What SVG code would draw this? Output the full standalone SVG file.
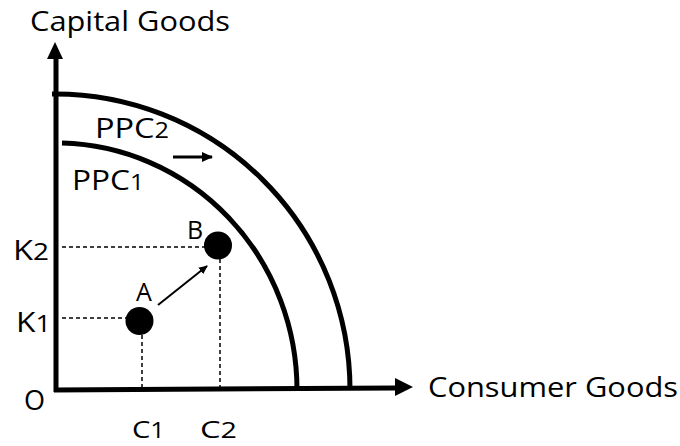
<svg xmlns="http://www.w3.org/2000/svg" width="680" height="446" viewBox="0 0 680 446">
<defs>
<style>
text{font-family:"Open Sans","Liberation Sans",sans-serif;fill:#000}
.lbl{font-size:27px}
.curve{fill:none;stroke:#000;stroke-width:5}
.dash{fill:none;stroke:#000;stroke-width:1.5;stroke-dasharray:4 3}
.axis{fill:none;stroke:#000;stroke-width:5}
</style>
<marker id="ah" markerWidth="10" markerHeight="10" refX="8" refY="5" orient="auto" markerUnits="userSpaceOnUse">
<path d="M0,1 L9,5 L0,9 Z" fill="#000"/>
</marker>
<marker id="ah2" markerWidth="12" markerHeight="12" refX="10" refY="6" orient="auto" markerUnits="userSpaceOnUse">
<path d="M0,1 L11,6 L0,11 Z" fill="#000"/>
</marker>
</defs>
<rect width="680" height="446" fill="#fff"/>
<g id="axes">
<path class="axis" d="M56,392 L56,56"/>
<path d="M47,59 L55,42 L63,59 Z" fill="#000"/>
<path class="axis" d="M54,390 L396,388"/>
<path d="M395,378 L413,387 L395,396 Z" fill="#000"/>
</g>
<g id="ppc2">
<path class="curve" d="M52,94 A295,296 0 0 1 350,390"/>
<text class="lbl" x="95" y="138" textLength="74" lengthAdjust="spacingAndGlyphs">PPC<tspan font-size="21">2</tspan></text>
</g>
<g id="ppc1">
<path class="curve" d="M62,143 A241,247 0 0 1 297,390"/>
<text class="lbl" x="72" y="190" textLength="72" lengthAdjust="spacingAndGlyphs">PPC<tspan font-size="21">1</tspan></text>
</g>
<g id="shift">
<path d="M173,157 L212,157" stroke="#000" stroke-width="3" fill="none" marker-end="url(#ah2)"/>
</g>
<g id="guides">
<path class="dash" d="M62,247 L205,247"/>
<path class="dash" d="M62,318 L126,318"/>
<path class="dash" d="M142,335 L142,388"/>
<path class="dash" d="M220,259 L220,388"/>
</g>
<g id="pointA">
<circle cx="139.5" cy="321" r="14"/>
<text x="136" y="301" font-size="25">A</text>
</g>
<g id="pointB">
<circle cx="218" cy="245.5" r="14"/>
<text x="187" y="239" font-size="25">B</text>
</g>
<g id="connectors">
<path d="M158,305 L207,266" stroke="#000" stroke-width="2" fill="none" marker-end="url(#ah)"/>
</g>
<g id="labels">
<text class="lbl" x="30" y="31" textLength="200" lengthAdjust="spacingAndGlyphs">Capital Goods</text>
<text class="lbl" x="428" y="397" textLength="250" lengthAdjust="spacingAndGlyphs">Consumer Goods</text>
<text class="lbl" x="13" y="260" textLength="36" lengthAdjust="spacingAndGlyphs">K<tspan font-size="23">2</tspan></text>
<text class="lbl" x="16" y="332" textLength="35" lengthAdjust="spacingAndGlyphs">K<tspan font-size="23">1</tspan></text>
<text class="lbl" x="24" y="410">O</text>
<text x="132" y="438" font-size="24" textLength="33" lengthAdjust="spacingAndGlyphs">C<tspan font-size="21">1</tspan></text>
<text x="200" y="438" font-size="24" textLength="37" lengthAdjust="spacingAndGlyphs">C<tspan font-size="21">2</tspan></text>
</g>
</svg>
